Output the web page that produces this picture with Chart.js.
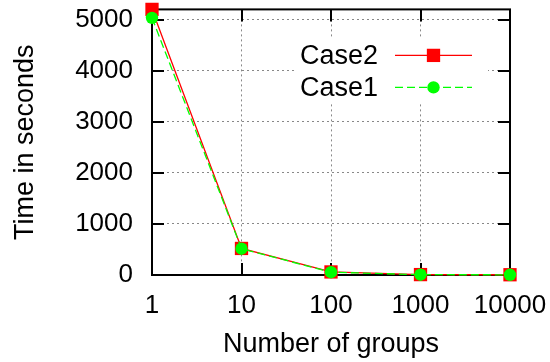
<!DOCTYPE html>
<html>
<head>
<meta charset="utf-8">
<title>Time vs number of groups</title>
<script src="https://cdn.jsdelivr.net/npm/chart.js@4/dist/chart.umd.min.js"></script>
<style>
  html, body { margin: 0; padding: 0; background: #fff; }
</style>
</head>
<body>
<canvas id="timeChart" width="550" height="362"></canvas>
<script>
// values
const groups = [1, 10, 100, 1000, 10000];
const case2 = [5200, 520, 60, 8, 5];
const case1 = [5035, 515, 55, 6, 4];
const yTicks = [0, 1000, 2000, 3000, 4000, 5000];
const seriesNames = ["Case2", "Case1"];

const FONT = "'Liberation Sans', Arial, Helvetica, sans-serif";
const tickFont = { family: FONT, size: 26 };
const titleFont = { family: FONT, size: 27 };

const toPoints = (vals) => groups.map((g, i) => ({ x: g, y: vals[i] }));

// gnuplot style frame: black box with ticks pointing inwards on all four sides
const framePlugin = {
  id: "frame",
  beforeDatasetsDraw(chart) {
    const { ctx, chartArea: a, scales } = chart;
    const len = 12;
    ctx.save();
    ctx.strokeStyle = "#000";
    ctx.lineWidth = 2;
    ctx.beginPath();
    groups.forEach((g) => {
      const px = Math.round(scales.x.getPixelForValue(g));
      ctx.moveTo(px, a.bottom); ctx.lineTo(px, a.bottom - len);
      ctx.moveTo(px, a.top); ctx.lineTo(px, a.top + len);
    });
    yTicks.forEach((v) => {
      const py = Math.round(scales.y.getPixelForValue(v));
      ctx.moveTo(a.left, py); ctx.lineTo(a.left + len, py);
      ctx.moveTo(a.right, py); ctx.lineTo(a.right - len, py);
    });
    ctx.stroke();
    ctx.strokeRect(a.left, a.top, a.right - a.left, a.bottom - a.top);
    ctx.restore();
  }
};

// key in the upper right corner: label, then line sample with marker in the middle
const keyPlugin = {
  id: "key",
  afterDatasetsDraw(chart) {
    const { ctx, chartArea: a } = chart;
    const boxRight = a.right - 22;
    const boxTop = a.top + 28;
    const rowH = 32;
    const sampleLen = 77;
    const textRight = boxRight - 110;
    ctx.save();
    ctx.fillStyle = "#fff";
    ctx.fillRect(textRight - 83, boxTop, boxRight - textRight + 83, rowH * 2 + 1);
    chart.data.datasets.forEach((ds, i) => {
      const y = boxTop + 18 + i * rowH;
      ctx.fillStyle = "#000";
      ctx.font = titleFont.size + "px " + FONT;
      ctx.textAlign = "right";
      ctx.textBaseline = "middle";
      ctx.fillText(ds.label, textRight, y + 1);

      const x0 = textRight + 17;
      const x1 = x0 + sampleLen;
      ctx.strokeStyle = ds.borderColor;
      ctx.lineWidth = ds.borderWidth;
      ctx.setLineDash(ds.borderDash || []);
      ctx.beginPath();
      ctx.moveTo(x0, y);
      ctx.lineTo(x1, y);
      ctx.stroke();
      ctx.setLineDash([]);

      const mx = (x0 + x1) / 2;
      ctx.fillStyle = ds.pointBackgroundColor;
      if (ds.pointStyle === "rect") {
        const s = ds.pointRadius * Math.SQRT1_2;
        ctx.fillRect(mx - s, y - s, 2 * s, 2 * s);
      } else {
        ctx.beginPath();
        ctx.arc(mx, y, ds.pointRadius, 0, Math.PI * 2);
        ctx.fill();
      }
    });
    ctx.restore();
  }
};

const ctx = document.getElementById("timeChart").getContext("2d");
new Chart(ctx, {
  type: "line",
  data: {
    datasets: [
      {
        label: seriesNames[0],
        data: toPoints(case2),
        borderColor: "#ff0000",
        backgroundColor: "#ff0000",
        pointBackgroundColor: "#ff0000",
        borderWidth: 1.3,
        pointStyle: "rect",
        pointRadius: 9.4,
        pointBorderWidth: 0,
        order: 1,
        clip: false
      },
      {
        label: seriesNames[1],
        data: toPoints(case1),
        borderColor: "#00ff00",
        backgroundColor: "#00ff00",
        pointBackgroundColor: "#00ff00",
        borderWidth: 1.3,
        borderDash: [8, 4],
        pointStyle: "circle",
        pointRadius: 6.2,
        pointBorderWidth: 0,
        order: 0,
        clip: false
      }
    ]
  },
  options: {
    responsive: false,
    animation: false,
    devicePixelRatio: 1,
    layout: { padding: { top: 5, right: 40, left: 0, bottom: 0 } },
    plugins: {
      legend: { display: false },
      tooltip: { enabled: false }
    },
    scales: {
      x: {
        type: "logarithmic",
        min: 1,
        max: 10000,
        afterBuildTicks: (s) => { s.ticks = groups.map((v) => ({ value: v })); },
        afterFit: (s) => {
          s.height = 87;
          s.paddingLeft = 0;
          s.paddingRight = 0;
        },
        ticks: {
          callback: (v) => String(v),
          font: tickFont,
          color: "#000",
          padding: 15,
          maxRotation: 0,
          autoSkip: false
        },
        grid: { color: "#888", lineWidth: 1, drawTicks: false },
        border: { display: false, dash: [2, 3] },
        title: {
          display: true,
          text: "Number of groups",
          font: titleFont,
          color: "#000",
          padding: { top: 0, bottom: 1 }
        }
      },
      y: {
        type: "linear",
        min: 0,
        max: 5200,
        afterBuildTicks: (s) => { s.ticks = yTicks.map((v) => ({ value: v })); },
        afterFit: (s) => {
          s.width = 152;
          s.paddingTop = 0;
          s.paddingBottom = 0;
        },
        ticks: {
          callback: (v) => String(v),
          font: tickFont,
          color: "#000",
          padding: 19
        },
        grid: { color: "#888", lineWidth: 1, drawTicks: false },
        border: { display: false, dash: [2, 3] },
        title: {
          display: true,
          text: "Time in seconds",
          font: titleFont,
          color: "#000",
          padding: { top: 9, bottom: 0 }
        }
      }
    }
  },
  plugins: [framePlugin, keyPlugin]
});
</script>
</body>
</html>
